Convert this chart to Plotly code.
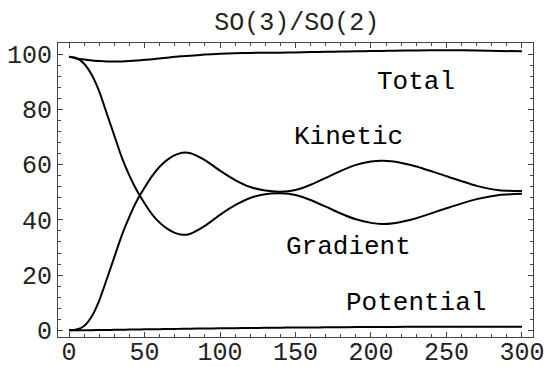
import plotly.graph_objects as go

# time steps
t = [0, 5, 10, 15, 20, 25, 30, 35, 40, 45, 50, 55, 60, 65, 70, 75, 80, 90, 100,
     110, 120, 130, 140, 150, 160, 170, 180, 190, 200, 207, 215, 230, 250, 270, 285, 300]

total = [99.0, 98.4, 98.0, 97.7, 97.5, 97.35, 97.3, 97.35, 97.5, 97.7, 97.9, 98.1, 98.4,
         98.7, 99.0, 99.2, 99.4, 99.8, 100.1, 100.3, 100.4, 100.5, 100.5, 100.6, 100.7,
         100.8, 100.9, 101.0, 101.1, 101.15, 101.2, 101.3, 101.4, 101.3, 101.1, 101.0]

gradient = [99.0, 98.5, 96.5, 92.5, 86.5, 78.5, 70.5, 62.5, 56.0, 50.5, 46.0, 42.0, 39.0,
            36.8, 35.3, 34.6, 34.9, 37.8, 41.8, 45.3, 47.9, 49.3, 49.6, 49.0, 47.2, 44.8,
            42.3, 40.2, 38.9, 38.5, 38.8, 40.6, 44.2, 47.5, 49.0, 49.4]

kinetic = [0.0, 0.3, 1.6, 5.0, 10.8, 18.5, 26.5, 34.5, 41.2, 47.0, 51.6, 55.8, 59.2,
           61.7, 63.4, 64.3, 64.2, 61.6, 57.8, 54.4, 51.9, 50.6, 50.2, 50.8, 52.7, 55.2,
           57.7, 59.9, 61.1, 61.4, 61.1, 59.3, 55.8, 52.3, 50.7, 50.4]

potential = [0.0, 0.02, 0.05, 0.08, 0.12, 0.15, 0.2, 0.24, 0.28, 0.32, 0.36, 0.4, 0.44,
             0.48, 0.52, 0.56, 0.6, 0.67, 0.74, 0.8, 0.86, 0.92, 0.97, 1.02, 1.06, 1.1,
             1.14, 1.18, 1.21, 1.23, 1.25, 1.28, 1.31, 1.33, 1.34, 1.35]

labels = ["Total", "Kinetic", "Gradient", "Potential"]
label_x = [230, 185, 185, 230]
label_y = [90, 70, 30, 10]

x_ticks = [0, 50, 100, 150, 200, 250, 300]
y_ticks = [0, 20, 40, 60, 80, 100]

FONT = "Liberation Mono, Courier New, Courier, monospace"

fig = go.Figure()
for series in [total, gradient, kinetic, potential]:
    fig.add_trace(go.Scatter(x=t, y=series, mode="lines",
                             line=dict(color="black", width=2, shape="spline", smoothing=0.6),
                             showlegend=False, hoverinfo="skip"))

for txt, lx, ly in zip(labels, label_x, label_y):
    fig.add_annotation(x=lx, y=ly, text=txt, showarrow=False,
                       font=dict(family=FONT, size=26, color="black"))

axis_common = dict(
    showgrid=False, zeroline=False, showline=True, linecolor="#444", linewidth=1,
    mirror="allticks", ticks="inside", ticklen=5, tickwidth=1, tickcolor="#444",
    tickfont=dict(family=FONT, size=25, color="#222"), automargin=False,
)

fig.update_xaxes(range=[-7.3, 307.3], tickvals=x_ticks, ticktext=[str(v) for v in x_ticks],
                 minor=dict(dtick=10, ticks="inside", ticklen=3, tickcolor="#444", tickwidth=1),
                 ticklabelstandoff=-8, **axis_common)
fig.update_yaxes(range=[-2.4, 104.0], tickvals=y_ticks, ticktext=[str(v) for v in y_ticks],
                 minor=dict(dtick=4, ticks="inside", ticklen=3, tickcolor="#444", tickwidth=1),
                 **axis_common)

fig.update_layout(
    width=547, height=367,
    margin=dict(l=58, r=14, t=43, b=30),
    paper_bgcolor="white", plot_bgcolor="white",
    title=dict(text="SO(3)/SO(2)", x=0.5424, xanchor="center", y=1 - 21.7 / 367,
               yanchor="middle", font=dict(family=FONT, size=25, color="#222"),
               automargin=False),
)

fig.write_html("out.html", config={"displayModeBar": False, "staticPlot": True},
               post_script="document.body.style.margin='0';document.body.style.overflow='hidden';")
